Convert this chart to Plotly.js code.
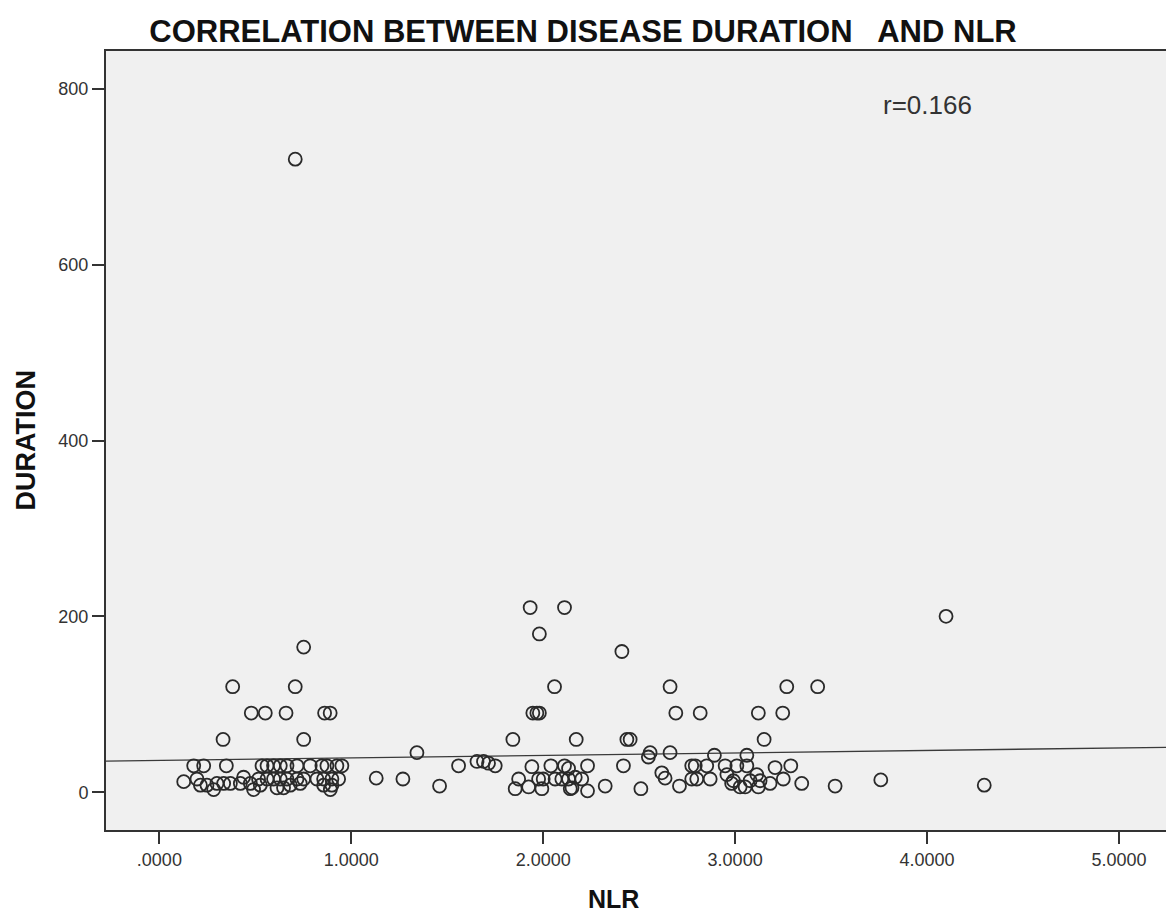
<!DOCTYPE html>
<html>
<head>
<meta charset="utf-8">
<script src="https://cdn.plot.ly/plotly-3.0.1.min.js"></script>
<style>html,body{margin:0;padding:0;background:#fff;}#chart{width:1166px;height:916px;}</style>
</head>
<body>
<div id="chart"></div>
<script>
// NLR values (x)
const nlr = [
  0.708,
  0.752, 0.382, 0.708, 0.479, 0.552, 0.660, 0.861, 0.890, 0.332, 0.752,
  0.179, 0.231, 0.349, 0.535, 0.561, 0.595, 0.630, 0.665, 0.717, 0.786, 0.847, 0.873, 0.925, 0.951,
  0.127, 0.196, 0.439, 0.517, 0.561, 0.595, 0.630, 0.665, 0.717, 0.752, 0.821, 0.856, 0.899, 0.934,
  0.214, 0.248, 0.300, 0.335, 0.370, 0.422, 0.474, 0.526, 0.682, 0.734, 0.856, 0.899,
  0.283, 0.491, 0.613, 0.647, 0.891,
  1.130, 1.269, 1.342, 1.460, 1.559, 1.655, 1.689, 1.715, 1.750,
  1.932, 2.111, 1.980, 2.410, 2.059, 1.946, 1.967, 1.980, 1.842, 2.172, 2.436,
  1.941, 2.040, 2.111, 2.132, 2.231, 2.418,
  1.872, 1.976, 2.000, 2.062, 2.097, 2.132, 2.167, 2.201,
  1.854, 1.924, 1.993, 2.141, 2.150, 2.231, 2.323,
  2.661, 3.269, 3.430, 2.691, 2.818, 3.121, 3.248, 2.453, 3.151,
  2.557, 2.548, 2.661, 2.892, 3.061,
  2.774, 2.792, 2.852, 2.948, 3.009, 3.061, 3.208, 3.290,
  2.618, 2.635,
  2.774, 2.800, 2.870, 2.957, 2.991, 3.078, 3.113, 3.130, 3.251,
  2.509, 2.710, 2.982, 3.026, 3.052, 3.121, 3.182, 3.347, 3.521,
  4.099, 3.759, 4.298
];
// Disease duration values (y)
const duration = [
  720,
  165, 120, 120, 90, 90, 90, 90, 90, 60, 60,
  30, 30, 30, 30, 30, 30, 30, 30, 30, 30, 30, 30, 30, 30,
  12, 15, 17, 15, 15, 15, 15, 15, 15, 15, 15, 15, 15, 15,
  8, 8, 10, 10, 10, 10, 10, 8, 8, 10, 8, 8,
  3, 3, 5, 5, 3,
  16, 15, 45, 7, 30, 35, 35, 33, 30,
  210, 210, 180, 160, 120, 90, 90, 90, 60, 60, 60,
  29, 30, 30, 27, 30, 30,
  15, 15, 15, 15, 15, 15, 17, 15,
  4, 6, 4, 4, 5, 1.5, 7,
  120, 120, 120, 90, 90, 90, 90, 60, 60,
  45, 40, 45, 42, 42,
  30, 30, 30, 30, 30, 30, 28, 30,
  22, 16,
  15, 15, 15, 20, 13, 13, 20, 13, 15,
  4, 7, 10, 6, 6, 6, 10, 10, 7,
  200, 14, 8
];
// Fit line
const fitIntercept = 36.1;
const fitSlope = 2.85;
const xRange = [-0.278, 5.245];
const yRange = [-43, 843];
const xTickVals = [0, 1, 2, 3, 4, 5];
const xTickText = ['.0000', '1.0000', '2.0000', '3.0000', '4.0000', '5.0000'];
const yTickVals = [0, 200, 400, 600, 800];

const fitX = xRange.slice();
const fitY = fitX.map(v => fitIntercept + fitSlope * v);

const fam = 'Liberation Sans, Arial, sans-serif';
const axisFont = {family: fam, size: 18, color: '#333'};

const data = [
  {
    x: fitX, y: fitY, type: 'scatter', mode: 'lines',
    line: {color: '#3a3a3a', width: 1.3}, hoverinfo: 'skip', showlegend: false
  },
  {
    x: nlr, y: duration, type: 'scatter', mode: 'markers',
    marker: {symbol: 'circle-open', size: 13, color: '#2a2a2a', line: {width: 1.8, color: '#2a2a2a'}},
    showlegend: false
  }
];

const layout = {
  width: 1166, height: 916,
  margin: {l: 106, r: 0, t: 51, b: 86},
  paper_bgcolor: '#ffffff',
  plot_bgcolor: '#f0f0f0',
  title: {
    text: '<b>CORRELATION BETWEEN DISEASE DURATION   AND NLR</b>',
    font: {family: fam, size: 31, color: '#111'},
    x: 583 / 1166, xref: 'container', xanchor: 'center', y: 1 - 31 / 916, yref: 'container', yanchor: 'middle'
  },
  xaxis: {
    range: xRange, tickvals: xTickVals, ticktext: xTickText,
    showgrid: false, zeroline: false,
    showline: true, linecolor: '#333', linewidth: 2, mirror: true,
    ticks: 'outside', ticklen: 12, tickwidth: 2, tickcolor: '#333',
    tickfont: axisFont
  },
  yaxis: {
    range: yRange, tickvals: yTickVals,
    showgrid: false, zeroline: false,
    showline: true, linecolor: '#333', linewidth: 2, mirror: false,
    ticks: 'outside', ticklen: 12, tickwidth: 2, tickcolor: '#333',
    tickfont: axisFont
  },
  annotations: [
    {
      text: 'r=0.166', xref: 'paper', yref: 'paper',
      x: (927 - 106) / 1060, y: (830 - 105) / 779, xanchor: 'center', yanchor: 'middle',
      showarrow: false,
      font: {family: fam, size: 26, color: '#333'}
    },
    {
      text: '<b>NLR</b>', xref: 'paper', yref: 'paper',
      x: (613 - 106) / 1060, y: -(899 - 830) / 779, xanchor: 'center', yanchor: 'middle',
      showarrow: false,
      font: {family: fam, size: 25, color: '#111'}
    },
    {
      text: '<b>DURATION</b>', xref: 'paper', yref: 'paper',
      x: -(106 - 25) / 1060, y: 0.5, xanchor: 'center', yanchor: 'middle',
      textangle: -90, showarrow: false,
      font: {family: fam, size: 27, color: '#111'}
    }
  ]
};

Plotly.newPlot('chart', data, layout, {displayModeBar: false, staticPlot: true});
</script>
</body>
</html>
